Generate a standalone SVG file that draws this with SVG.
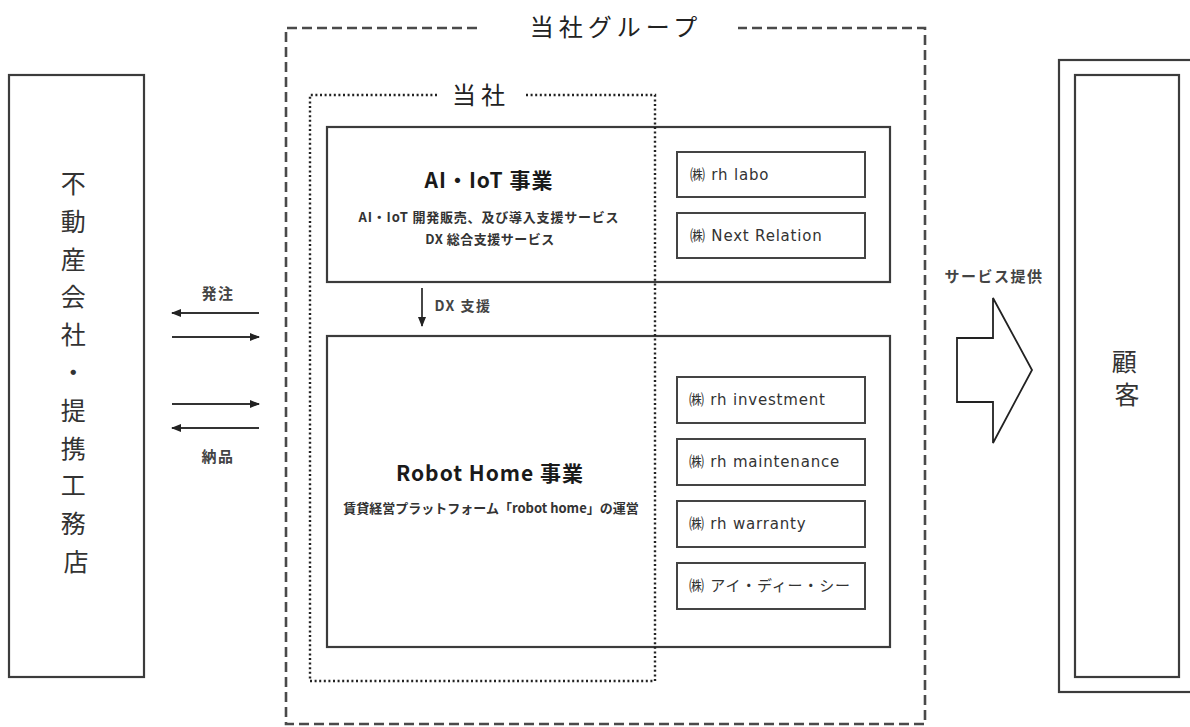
<svg xmlns="http://www.w3.org/2000/svg" width="1190" height="727" viewBox="0 0 1190 727">
<style>
  text { font-family: "Noto Sans CJK JP", "Noto Sans", sans-serif; fill: #2a2a2a; dominant-baseline: central; }
  .box { fill: #fff; stroke: #3c3c3c; stroke-width: 2.2; }
  .sbox { fill: #fff; stroke: #444; stroke-width: 2; }
  .dash { fill: none; stroke: #4a4a4a; stroke-width: 2.6; stroke-dasharray: 10 5; }
  .dot { fill: none; stroke: #222; stroke-width: 2.4; stroke-dasharray: 2 2.6; }
  .big { font-size: 25px; text-anchor: middle; fill: #333; }
  .title { font-size: 21px; font-weight: bold; text-anchor: middle; letter-spacing: 1px; fill: #1a1a1a; }
  .sub { font-size: 13px; font-weight: bold; text-anchor: middle; fill: #333; }
  .co { font-family: "DejaVu Sans", "Noto Sans CJK JP", sans-serif; font-size: 15px; letter-spacing: 0.8px; fill: #333; }
  .lbl { font-size: 15px; font-weight: bold; text-anchor: middle; letter-spacing: 1.5px; fill: #444; }
  .grp { font-size: 24px; text-anchor: middle; letter-spacing: 5px; fill: #222; }
  .line { stroke: #333; stroke-width: 1.8; fill: none; }
</style>
<defs>
  <marker id="ah" viewBox="0 0 10 8" refX="9" refY="4" markerWidth="10" markerHeight="8" markerUnits="userSpaceOnUse" orient="auto">
    <path d="M0,0 L10,4 L0,8 Z" fill="#222"/>
  </marker>
</defs>

<g id="partners">
  <rect class="box" x="9" y="75" width="135" height="602"/>
  <text class="big" x="76">
    <tspan x="76" y="182">不</tspan>
    <tspan x="76" y="219.8">動</tspan>
    <tspan x="76" y="257.6">産</tspan>
    <tspan x="76" y="295.4">会</tspan>
    <tspan x="76" y="333.2">社</tspan>
    <tspan x="76" y="371">・</tspan>
    <tspan x="76" y="408.8">提</tspan>
    <tspan x="76" y="446.6">携</tspan>
    <tspan x="76" y="484.4">工</tspan>
    <tspan x="76" y="522.2">務</tspan>
    <tspan x="76" y="560">店</tspan>
  </text>
</g>

<g id="group-frame">
  <path class="dash" d="M477 28 H286 V724 H925 V28 H738"/>
  <text class="grp" x="616" y="25">当社グループ</text>
</g>

<g id="ai-iot">
  <rect class="box" x="327" y="127" width="563" height="155"/>
  <text class="title" x="489" y="179">AI・IoT 事業</text>
  <text class="sub" x="489" y="216" style="letter-spacing:0.8px">AI・IoT 開発販売、及び導入支援サービス</text>
  <text class="sub" x="490" y="238" style="letter-spacing:0.5px">DX 総合支援サービス</text>
</g>
<g id="rh-labo">
  <rect class="sbox" x="677" y="152" width="188" height="45"/>
  <text class="co" x="690" y="175">㈱ rh labo</text>
</g>
<g id="next-relation">
  <rect class="sbox" x="677" y="213" width="188" height="45"/>
  <text class="co" x="690" y="236">㈱ Next Relation</text>
</g>

<g id="robot-home">
  <rect class="box" x="327" y="336" width="563" height="311"/>
  <text class="title" x="490" y="472">Robot Home 事業</text>
  <text class="sub" x="491" y="507">賃貸経営プラットフォーム「robot home」の運営</text>
</g>
<g id="rh-investment">
  <rect class="sbox" x="677" y="377" width="188" height="46"/>
  <text class="co" x="689" y="400">㈱ rh investment</text>
</g>
<g id="rh-maintenance">
  <rect class="sbox" x="677" y="439" width="188" height="46"/>
  <text class="co" x="689" y="462">㈱ rh maintenance</text>
</g>
<g id="rh-warranty">
  <rect class="sbox" x="677" y="501" width="188" height="46"/>
  <text class="co" x="689" y="524">㈱ rh warranty</text>
</g>
<g id="idc">
  <rect class="sbox" x="677" y="563" width="188" height="46"/>
  <text class="co" x="689" y="586">㈱ アイ・ディー・シー</text>
</g>

<g id="company-frame">
  <path class="dot" d="M437 95 H310 V681 H655 V95 H524"/>
  <text class="grp" x="481" y="93">当社</text>
</g>

<g id="customer">
  <rect class="box" x="1059" y="60" width="140" height="632"/>
  <rect class="box" x="1075" y="75" width="104" height="602"/>
  <text class="big" x="1127">
    <tspan x="1127" y="360">顧</tspan>
    <tspan x="1127" y="393">客</tspan>
  </text>
</g>

<g id="connectors">
  <line class="line" x1="259" y1="313" x2="172" y2="313" marker-end="url(#ah)"/>
  <line class="line" x1="172" y1="337" x2="259" y2="337" marker-end="url(#ah)"/>
  <line class="line" x1="172" y1="404" x2="259" y2="404" marker-end="url(#ah)"/>
  <line class="line" x1="259" y1="428" x2="172" y2="428" marker-end="url(#ah)"/>
  <text class="lbl" x="218" y="292">発注</text>
  <text class="lbl" x="218" y="455">納品</text>
  <line class="line" x1="422" y1="288" x2="422" y2="326" marker-end="url(#ah)"/>
  <text class="lbl" x="463" y="305" style="font-size:14px;letter-spacing:1.5px">DX 支援</text>
  <path d="M957 338 H993 V298 L1032 370 L993 443 V402 H957 Z" fill="#fff" stroke="#222" stroke-width="1.8" stroke-linejoin="miter"/>
  <text class="lbl" x="994" y="275">サービス提供</text>
</g>
</svg>
